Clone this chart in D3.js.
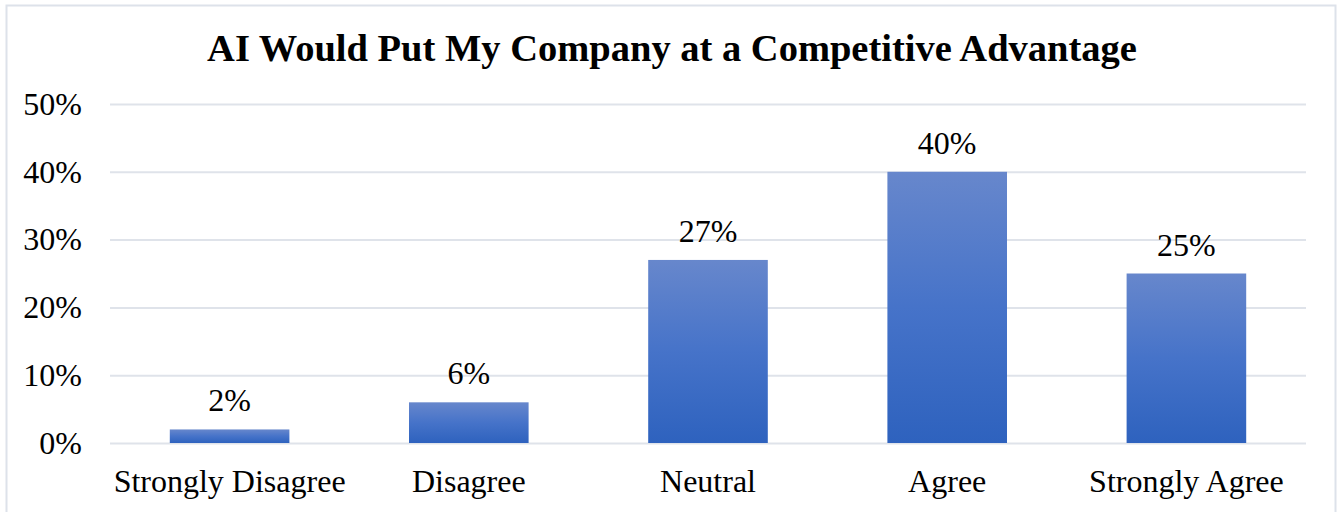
<!DOCTYPE html>
<html>
<head>
<meta charset="utf-8">
<script src="https://cdn.jsdelivr.net/npm/d3@7/dist/d3.min.js"></script>
<style>
  html, body { margin: 0; padding: 0; background: #fff; }
  svg { display: block; font-family: "Liberation Serif", "Times New Roman", serif; }
</style>
</head>
<body>
<svg id="chart" width="1343" height="512"></svg>
<script>
// Survey responses: share of respondents per answer
const categories = ["Strongly Disagree", "Disagree", "Neutral", "Agree", "Strongly Agree"];
const shares = [2, 6, 27, 40, 25];
const yTicks = [0, 10, 20, 30, 40, 50];
const title = "AI Would Put My Company at a Competitive Advantage";

const svg = d3.select("#chart");
const plot = { left: 110, right: 1306, top: 104, bottom: 443 };
const labelSize = 32;

// outer frame
svg.append("rect")
  .attr("x", 6.5).attr("y", 5.5)
  .attr("width", 1329).attr("height", 520)
  .attr("fill", "#fff").attr("stroke", "#dde2ea").attr("stroke-width", 2);

const x = d3.scaleBand().domain(categories)
  .range([plot.left, plot.right]).paddingInner(0.5).paddingOuter(0.25);
const y = d3.scaleLinear().domain([0, 50]).range([plot.bottom, plot.top]);

// bar gradient: lighter at the top, deeper blue at the base
const defs = svg.append("defs");
const grad = defs.append("linearGradient").attr("id", "barGrad")
  .attr("x1", 0).attr("y1", 0).attr("x2", 0).attr("y2", 1)
  .attr("gradientUnits", "objectBoundingBox");
grad.append("stop").attr("offset", "0%").attr("stop-color", "#6787cc");
grad.append("stop").attr("offset", "50%").attr("stop-color", "#4673c9");
grad.append("stop").attr("offset", "100%").attr("stop-color", "#2e62be");

// gridlines with y-axis labels
const yAxis = d3.axisLeft(y).tickValues(yTicks).tickSize(-(plot.right - plot.left))
  .tickFormat(d => d + "%").tickPadding(28);
const gy = svg.append("g").attr("transform", `translate(${plot.left},0)`).call(yAxis);
gy.select(".domain").remove();
gy.selectAll(".tick line").attr("stroke", "#dfe3ea").attr("stroke-width", 2);
gy.selectAll(".tick text").attr("fill", "#000").attr("font-size", labelSize)
  .attr("font-family", "Liberation Serif, serif");

// bars
svg.append("g").selectAll("rect").data(categories).join("rect")
  .attr("x", d => x(d))
  .attr("width", x.bandwidth())
  .attr("y", (d, i) => y(shares[i]))
  .attr("height", (d, i) => y(0) - y(shares[i]))
  .attr("fill", "url(#barGrad)");

// value labels above bars
svg.append("g").selectAll("text").data(categories).join("text")
  .attr("x", d => x(d) + x.bandwidth() / 2)
  .attr("y", (d, i) => y(shares[i]) - 18)
  .attr("text-anchor", "middle")
  .attr("font-size", labelSize).attr("fill", "#000")
  .text((d, i) => shares[i] + "%");

// category axis
const xAxis = d3.axisBottom(x).tickSize(0).tickPadding(0);
const gx = svg.append("g").attr("transform", `translate(0,${plot.bottom})`).call(xAxis);
gx.select(".domain").remove();
gx.selectAll(".tick text").attr("fill", "#000").attr("font-size", labelSize)
  .attr("font-family", "Liberation Serif, serif")
  .attr("dy", null).attr("y", 49);

// title
svg.append("text")
  .attr("x", 672).attr("y", 61)
  .attr("text-anchor", "middle")
  .attr("font-size", 38.5).attr("font-weight", "bold").attr("fill", "#000")
  .text(title);
</script>
</body>
</html>
